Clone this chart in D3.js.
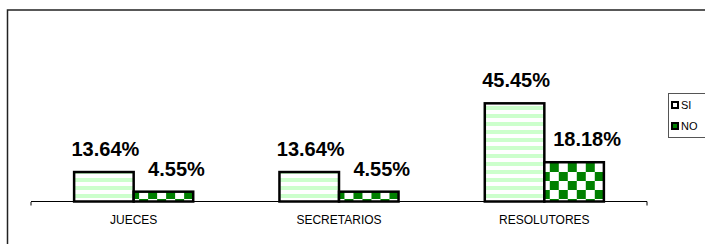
<!DOCTYPE html>
<html>
<head>
<meta charset="utf-8">
<script src="https://cdn.jsdelivr.net/npm/d3@7"></script>
<style>
    html, body { margin: 0; padding: 0; background: #fff; }
    svg { display: block; font-family: Arial, "Liberation Sans", sans-serif; }
</style>
</head>
<body>
<div id="chart"></div>
<script>
// chart data
const categories = ['JUECES', 'SECRETARIOS', 'RESOLUTORES'];
const seriesNames = ['SI', 'NO'];
const siValues = [13.64, 13.64, 45.45];
const noValues = [4.55, 4.55, 18.18];

const width = 705, height = 244;
const plot = { left: 31, right: 647, bottom: 201.5 };

const svg = d3.select('#chart').append('svg')
    .attr('width', width)
    .attr('height', height);

// patterns
const defs = svg.append('defs');
const stripes = defs.append('pattern')
    .attr('id', 'pat-si')
    .attr('patternUnits', 'userSpaceOnUse')
    .attr('width', 8).attr('height', 8);
stripes.append('rect').attr('width', 8).attr('height', 8).attr('fill', '#fff');
stripes.append('rect').attr('y', 2).attr('width', 8).attr('height', 4).attr('fill', '#ccffcc');

const checks = defs.append('pattern')
    .attr('id', 'pat-no')
    .attr('patternUnits', 'userSpaceOnUse')
    .attr('x', 542).attr('y', 154)
    .attr('width', 18).attr('height', 18);
checks.append('rect').attr('width', 18).attr('height', 18).attr('fill', '#fff');
checks.append('rect').attr('width', 9).attr('height', 9).attr('fill', '#008000');
checks.append('rect').attr('x', 9).attr('y', 9).attr('width', 9).attr('height', 9).attr('fill', '#008000');

// outer frame
svg.append('path')
    .attr('d', `M7.5,${height} V10 H${width}`)
    .attr('fill', 'none')
    .attr('stroke', '#222')
    .attr('stroke-width', 1.5);

const x0 = d3.scaleBand()
    .domain(categories)
    .range([plot.left, plot.right])
    .paddingInner(0.42)
    .paddingOuter(0.21);

const x1 = d3.scaleBand()
    .domain(seriesNames)
    .range([0, x0.bandwidth()]);

const y = d3.scaleLinear()
    .domain([0, 50])
    .range([plot.bottom, plot.bottom - 50 * 2.16]);

const rows = categories.map((c, i) => ({
    cat: c,
    values: [
        { key: 'SI', value: siValues[i] },
        { key: 'NO', value: noValues[i] }
    ]
}));

const groups = svg.selectAll('.grp')
    .data(rows)
    .enter()
    .append('g')
    .attr('class', 'grp')
    .attr('transform', d => `translate(${x0(d.cat)},0)`);

groups.selectAll('rect')
    .data(d => d.values)
    .enter()
    .append('rect')
    .attr('x', d => x1(d.key))
    .attr('y', d => y(d.value))
    .attr('width', x1.bandwidth())
    .attr('height', d => y(0) - y(d.value))
    .attr('fill', d => d.key === 'SI' ? 'url(#pat-si)' : 'url(#pat-no)')
    .attr('stroke', '#000')
    .attr('stroke-width', 2.5);

groups.selectAll('.val')
    .data(d => d.values)
    .enter()
    .append('text')
    .attr('class', 'val')
    .attr('x', d => x1(d.key) + x1.bandwidth() / 2 + (d.key === 'NO' ? 13 : 1.5))
    .attr('y', d => y(d.value) - 16)
    .attr('text-anchor', 'middle')
    .attr('font-size', 20)
    .attr('font-weight', 'bold')
    .attr('fill', '#000')
    .text(d => d.value.toFixed(2) + '%');

// x axis
const axis = svg.append('g')
    .attr('transform', `translate(0,${plot.bottom})`)
    .call(d3.axisBottom(x0).tickSize(0).tickPadding(14));
axis.select('.domain').attr('stroke', '#000').attr('d', `M${plot.left},0.5V4M${plot.left},0H${plot.right}V4`);
axis.selectAll('text')
    .attr('font-size', 12)
    .attr('font-family', 'Arial, "Liberation Sans", sans-serif')
    .attr('fill', '#000');

// legend
const legend = svg.append('g').attr('transform', 'translate(668,93)');
legend.append('rect')
    .attr('x', 0.5).attr('y', 0.5)
    .attr('width', 50).attr('height', 44)
    .attr('fill', '#fff')
    .attr('stroke', '#555');
legend.selectAll('.item')
    .data(seriesNames)
    .enter()
    .append('g')
    .attr('transform', (d, i) => `translate(0,${i * 21})`)
    .each(function(d) {
        const g = d3.select(this);
        g.append('rect')
            .attr('x', 4).attr('y', 9)
            .attr('width', 6).attr('height', 6)
            .attr('fill', d === 'SI' ? '#fff' : '#008000')
            .attr('stroke', '#000')
            .attr('stroke-width', 2);
        g.append('text')
            .attr('x', 13).attr('y', 16)
            .attr('font-size', 11)
            .attr('fill', '#000')
            .text(d);
    });
</script>
</body>
</html>
